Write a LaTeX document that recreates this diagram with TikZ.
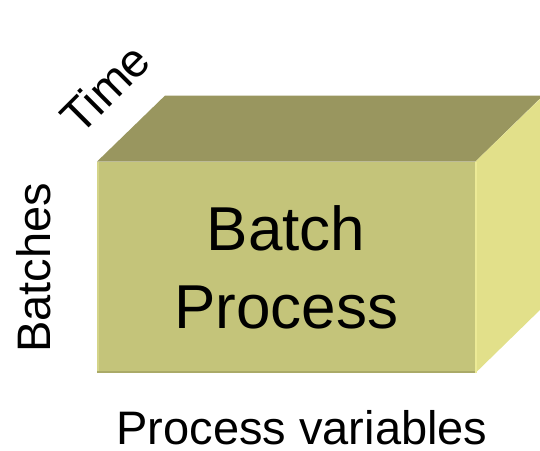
\documentclass[tikz,border=0pt]{standalone}
\usepackage{fontspec}
\setmainfont{Liberation Sans}
\definecolor{frontc}{RGB}{196,196,122}
\definecolor{frontlight}{RGB}{212,212,136}
\definecolor{frontdark}{RGB}{170,170,104}
\definecolor{topc}{RGB}{153,150,95}
\definecolor{sidec}{RGB}{226,224,138}
\definecolor{sidelight}{RGB}{236,234,150}
\begin{document}
\begin{tikzpicture}[x=1pt,y=1pt,
  lbl/.style={font=\fontsize{47}{56}\selectfont, inner sep=0pt},
  face/.style={inner sep=0pt, align=center, font=\fontsize{62}{78}\selectfont}]
\useasboundingbox (0,0) rectangle (540,450);
\clip (0,0) rectangle (540,450);
\node[face, fill=frontc, minimum width=378pt, minimum height=211pt, anchor=south west] (front) at (97,77) {Batch\\Process};
\fill[topc] (front.north west) -- ++(68,66) -- ++(378,0) -- (front.north east) -- cycle;
\fill[sidec] (front.north east) -- ++(68,66) -- ++(0,-211) -- (front.south east) -- cycle;
\draw[frontlight, line width=2pt] ([xshift=1pt]front.south west) -- ([xshift=1pt]front.north west);
\draw[frontdark, line width=2pt] ([yshift=1pt]front.south west) -- ([yshift=1pt]front.south east);
\draw[sidelight, line width=2pt] ([xshift=1pt]front.south east) -- ([xshift=1pt]front.north east);
\node[lbl, rotate=90, anchor=base] (batches) at (50,182) {Batches};
\node[lbl, rotate=45, anchor=base] (time) at (117,350) {Time};
\node[lbl, anchor=base] (pv) at (302,6) {Process variables};
\end{tikzpicture}
\end{document}
